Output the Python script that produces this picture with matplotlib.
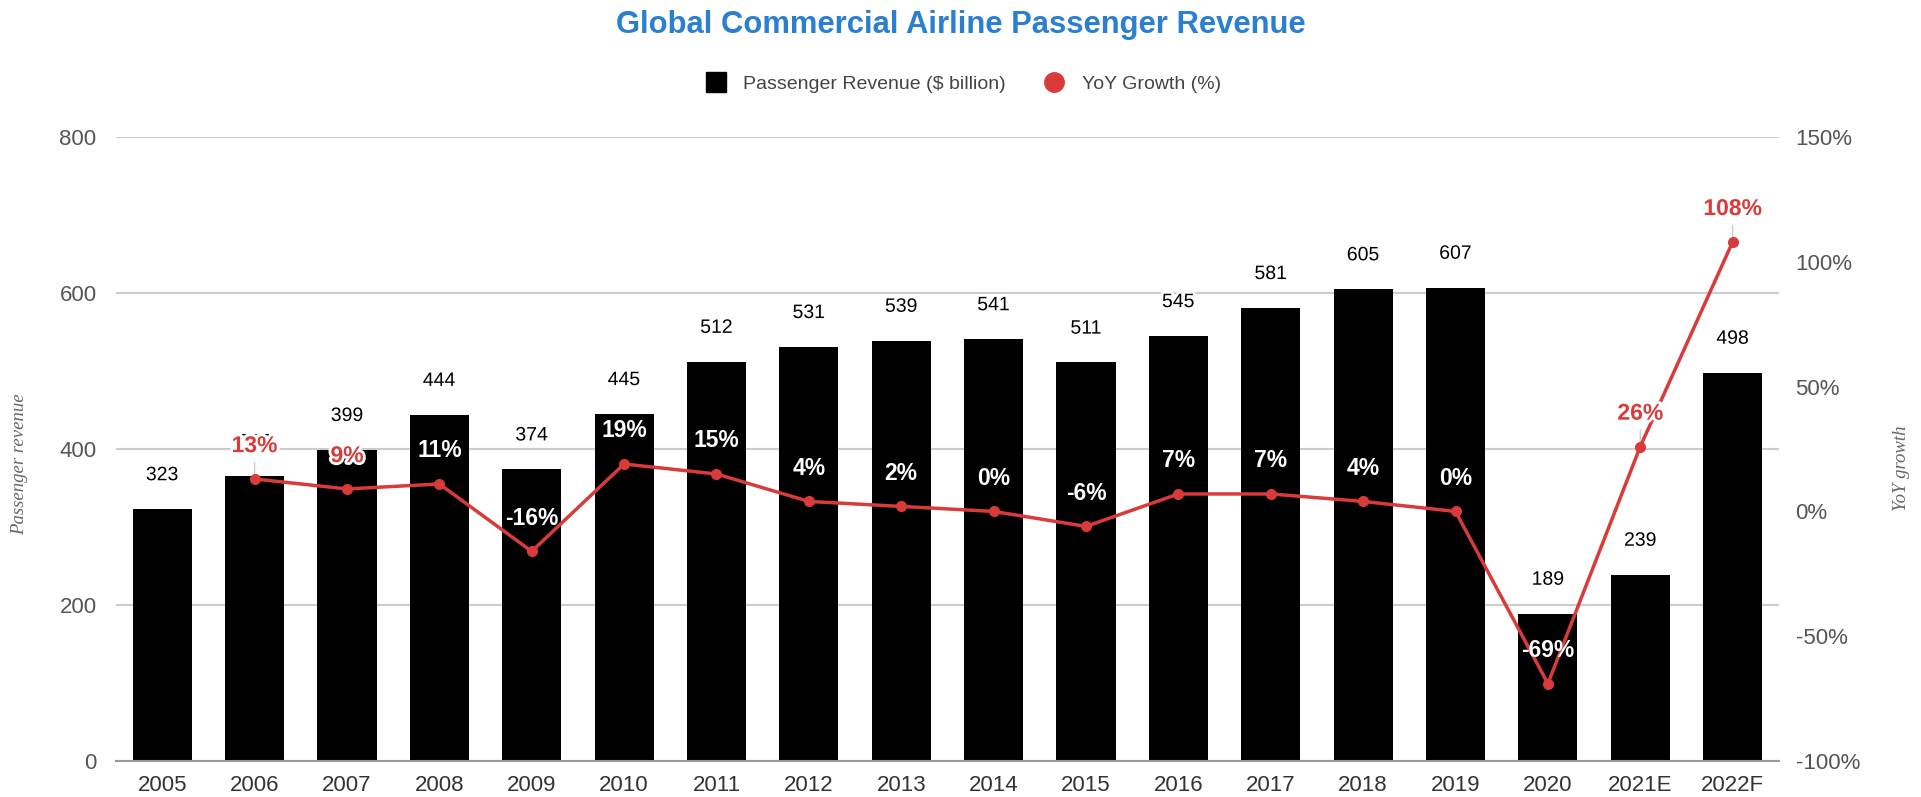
import matplotlib.pyplot as plt
import matplotlib.patheffects as pe
from matplotlib.lines import Line2D

# data
years = ["2005", "2006", "2007", "2008", "2009", "2010", "2011", "2012", "2013",
         "2014", "2015", "2016", "2017", "2018", "2019", "2020", "2021E", "2022F"]
revenue = [323, 365, 399, 444, 374, 445, 512, 531, 539,
           541, 511, 545, 581, 605, 607, 189, 239, 498]
growth = [None, 13, 9, 11, -16, 19, 15, 4, 2,
          0, -6, 7, 7, 4, 0, -69, 26, 108]

RED = "#d93a3a"
TITLE_BLUE = "#2b7fd0"
FONT = "Liberation Sans"

plt.rcParams["font.family"] = [FONT, "DejaVu Sans"]

fig = plt.figure(figsize=(19.21, 7.97), dpi=100)
ax = fig.add_axes([0.0604, 0.0452, 0.8656, 0.7828])
ax2 = ax.twinx()

x = list(range(len(years)))
ax.bar(x, revenue, width=0.64, color="black", zorder=2)

ax.set_xlim(-0.5, len(years) - 0.5)
ax.set_ylim(0, 800)
ax.set_yticks([0, 200, 400, 600, 800])
ax.grid(axis="y", color="#cccccc", linewidth=1.5, zorder=0)
ax.set_axisbelow(True)
for s in ["top", "right", "left"]:
    ax.spines[s].set_visible(False)
ax.spines["bottom"].set_color("#999999")
ax.spines["bottom"].set_linewidth(1.5)
ax.tick_params(axis="y", length=0, pad=14, labelsize=16, labelcolor="#555555")
ax.tick_params(axis="x", length=0, pad=10, labelsize=16, labelcolor="#333333")
ax.set_xticks(x)
ax.set_xticklabels(years)

# right axis for growth
ax2.set_ylim(-100, 150)
ax2.set_yticks([-100, -50, 0, 50, 100, 150])
ax2.set_yticklabels([f"{v}%" for v in [-100, -50, 0, 50, 100, 150]])
for s in ax2.spines.values():
    s.set_visible(False)
ax2.tick_params(axis="y", length=0, pad=12, labelsize=16, labelcolor="#555555")

gx = [i for i, g in zip(x, growth) if g is not None]
gy = [g for g in growth if g is not None]
ax2.plot(gx, gy, color=RED, linewidth=2.5, marker="o", markersize=7, zorder=4)

# revenue labels above bars
halo = [pe.withStroke(linewidth=4, foreground="white")]
for i, v in zip(x, revenue):
    ax.annotate(str(v), (i, v), xytext=(0, 24), textcoords="offset points",
                ha="center", va="center", fontsize=14, color="black",
                path_effects=halo, zorder=5)

# growth labels: red with halo when they sit above the bar, white inside it
off = 24
fig.canvas.draw()
for i, g in zip(gx, gy):
    px_pt = ax2.transData.transform((i, g))[1]
    label_px = px_pt + off * fig.dpi / 72
    bar_px = ax.transData.transform((i, revenue[i]))[1]
    outside = label_px > bar_px - 12
    col = RED if outside else "white"
    pe_list = halo if outside else None
    ax2.annotate(f"{g}%", (i, g), xytext=(0, off), textcoords="offset points",
                 ha="center", va="center", fontsize=16.5, fontweight="bold",
                 color=col, path_effects=pe_list, zorder=6)
    if label_px > bar_px:
        ax2.annotate("", (i, g), xytext=(0, off - 10), textcoords="offset points",
                     arrowprops=dict(arrowstyle="-", color="#cccccc", lw=1),
                     zorder=3)

fig.text(0.0104, 0.418, "Passenger revenue", rotation=90, ha="center", va="center",
         fontsize=13.5, style="italic", family="Liberation Serif", color="#666666")
fig.text(0.990, 0.412, "YoY growth", rotation=90, ha="center", va="center",
         fontsize=13.5, style="italic", family="Liberation Serif", color="#666666")

fig.text(0.5, 0.969, "Global Commercial Airline Passenger Revenue", ha="center",
         va="center", fontsize=22.3, fontweight="bold", color=TITLE_BLUE)

handles = [
    Line2D([], [], linestyle="none", marker="s", markersize=14, color="black"),
    Line2D([], [], linestyle="none", marker="o", markersize=14, color=RED),
]
leg = fig.legend(handles, ["Passenger Revenue ($ billion)", "YoY Growth (%)"],
                 loc="center", bbox_to_anchor=(0.499, 0.894), ncol=2, frameon=False,
                 fontsize=14, handletextpad=0.4, columnspacing=1.5)
for t in leg.get_texts():
    t.set_color("#444444")

fig.savefig("out.png", dpi=100)
